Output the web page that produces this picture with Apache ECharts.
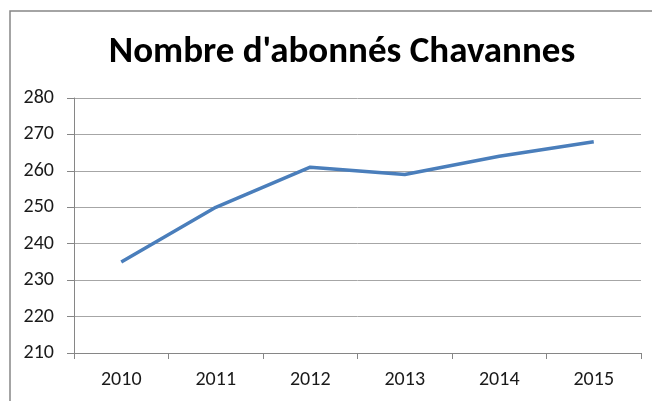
<!DOCTYPE html>
<html><head><meta charset="utf-8">
<script src="https://cdn.jsdelivr.net/npm/echarts@6/dist/echarts.min.js"></script>
<style>html,body{margin:0;padding:0;background:#fff}#c{width:652px;height:401px}</style>
</head><body><div id="c"></div>
<script>
const titleText = "Nombre d'abonnés Chavannes";
const categories = ["2010","2011","2012","2013","2014","2015"];
const subscribers = [235, 250, 261, 259, 264, 268];
const yTicks = [210, 220, 230, 240, 250, 260, 270, 280];

const chart = echarts.init(document.getElementById('c'), null, {renderer:'canvas'});
const font = "Carlito, 'Open Sans', 'Liberation Sans', sans-serif";
chart.setOption({
  animation:false,
  backgroundColor:'#fff',
  title:{text:titleText, left:337, top:29, textAlign:'center',
    textStyle:{fontFamily:font, fontWeight:'bold', fontSize:37, color:'#000'}},
  graphic:[{type:'rect', shape:{x:10, y:11, width:700, height:450},
    style:{fill:'none', stroke:'#868686', lineWidth:1.5}, silent:true}],
  grid:{left:74, right:11, top:98, bottom:48, containLabel:false},
  xAxis:{type:'category', data:categories, boundaryGap:true,
    axisLine:{lineStyle:{color:'#868686'}},
    axisTick:{show:true, length:6, lineStyle:{color:'#868686'}, alignWithLabel:false},
    axisLabel:{fontFamily:font, fontSize:20, color:'#1a1a1a', margin:17}},
  yAxis:{type:'value', min:yTicks[0], max:yTicks[yTicks.length-1], interval:10,
    axisLine:{show:true, lineStyle:{color:'#868686'}},
    axisTick:{show:true, length:7, lineStyle:{color:'#868686'}},
    splitLine:{lineStyle:{color:'#a6a6a6'}},
    axisLabel:{fontFamily:font, fontSize:20, color:'#1a1a1a', margin:20}},
  series:[{type:'line', data:subscribers, symbol:'none',
    lineStyle:{color:'#4a7ebb', width:3.5}}]
});
</script></body></html>
